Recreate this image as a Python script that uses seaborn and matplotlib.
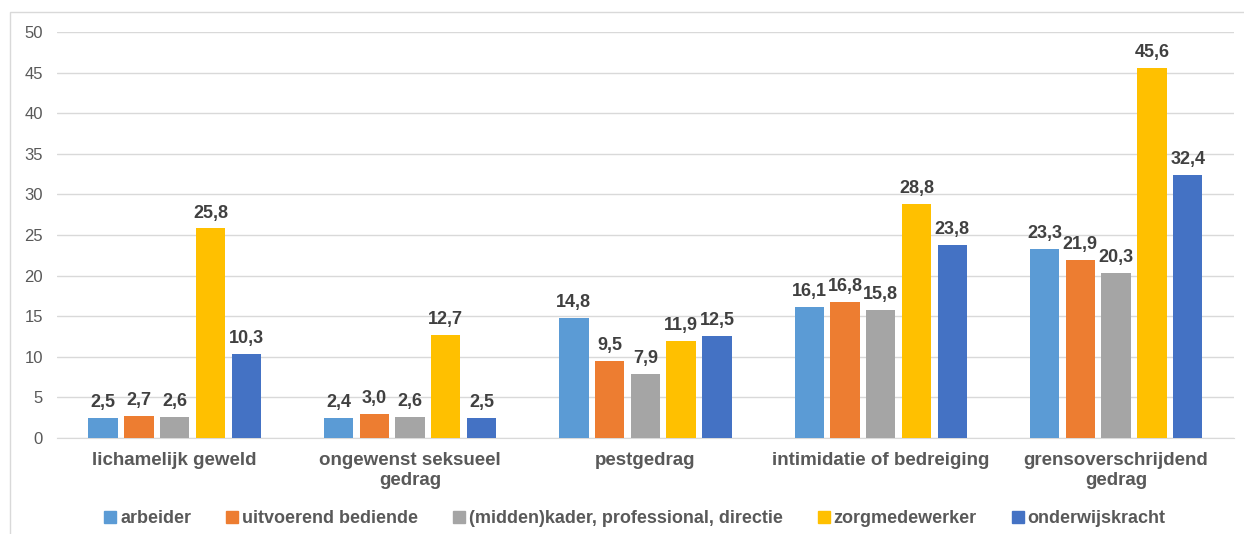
import numpy as np
import pandas as pd
import matplotlib
matplotlib.use("Agg")
import matplotlib.pyplot as plt
import seaborn as sns
from matplotlib.patches import Rectangle

categories = ["lichamelijk geweld", "ongewenst seksueel\ngedrag", "pestgedrag",
              "intimidatie of bedreiging", "grensoverschrijdend\ngedrag"]
groups = ["arbeider", "uitvoerend bediende", "(midden)kader, professional, directie",
          "zorgmedewerker", "onderwijskracht"]
arbeider = [2.5, 2.4, 14.8, 16.1, 23.3]
uitvoerend = [2.7, 3.0, 9.5, 16.8, 21.9]
kader = [2.6, 2.6, 7.9, 15.8, 20.3]
zorg = [25.8, 12.7, 11.9, 28.8, 45.6]
onderwijs = [10.3, 2.5, 12.5, 23.8, 32.4]
colors = ["#5B9BD5", "#ED7D31", "#A5A5A5", "#FFC000", "#4472C4"]

rows = []
for g, vals in zip(groups, [arbeider, uitvoerend, kader, zorg, onderwijs]):
    for c, v in zip(categories, vals):
        rows.append({"cat": c, "groep": g, "pct": v})
df = pd.DataFrame(rows)

sns.set_style("white")
plt.rcParams['font.family'] = ['Liberation Sans', 'DejaVu Sans']

fig = plt.figure(figsize=(12.44, 5.34), dpi=100)
ax = fig.add_axes([0.0458, 0.180, 0.946, 0.760])
sns.barplot(data=df, x="cat", y="pct", hue="groep", order=categories, hue_order=groups,
            palette=colors, width=0.76, gap=0.18, ax=ax, legend=False, saturation=1,
            edgecolor="none", zorder=3)

for cont in ax.containers:
    labels = [("%.1f" % b.get_height()).replace(".", ",") for b in cont]
    ax.bar_label(cont, labels=labels, padding=5, fontsize=13, fontweight="bold", color="#404040")

ax.set_ylim(0, 50)
ax.set_yticks(np.arange(0, 51, 5))
ax.yaxis.grid(True, color="#D9D9D9", linewidth=1, zorder=0)
ax.set_axisbelow(True)
for s in ["top", "right", "left"]:
    ax.spines[s].set_visible(False)
ax.spines["bottom"].set_color("#D9D9D9")
ax.tick_params(axis="y", length=0, labelsize=12, labelcolor="#595959", pad=10)
ax.tick_params(axis="x", length=0, labelsize=13.5, labelcolor="#595959", pad=10)
for t in ax.get_xticklabels():
    t.set_fontweight("bold")
    t.set_linespacing(1.25)
ax.set_xlabel("")
ax.set_ylabel("")

handles = [Rectangle((0, 0), 1, 1, color=c) for c in colors]
leg = fig.legend(handles, groups, loc="center", bbox_to_anchor=(0.5105, 0.029), ncol=5,
                 frameon=False, handlelength=0.65, handleheight=0.65, handletextpad=0.22,
                 columnspacing=1.95, fontsize=13)
for t in leg.get_texts():
    t.set_fontweight("bold")
    t.set_color("#595959")

fig.patches.append(Rectangle((0.008, -0.1), 1.1, 1.078, transform=fig.transFigure,
                             fill=False, edgecolor="#D9D9D9", linewidth=1))

fig.savefig("out.png", dpi=100)
